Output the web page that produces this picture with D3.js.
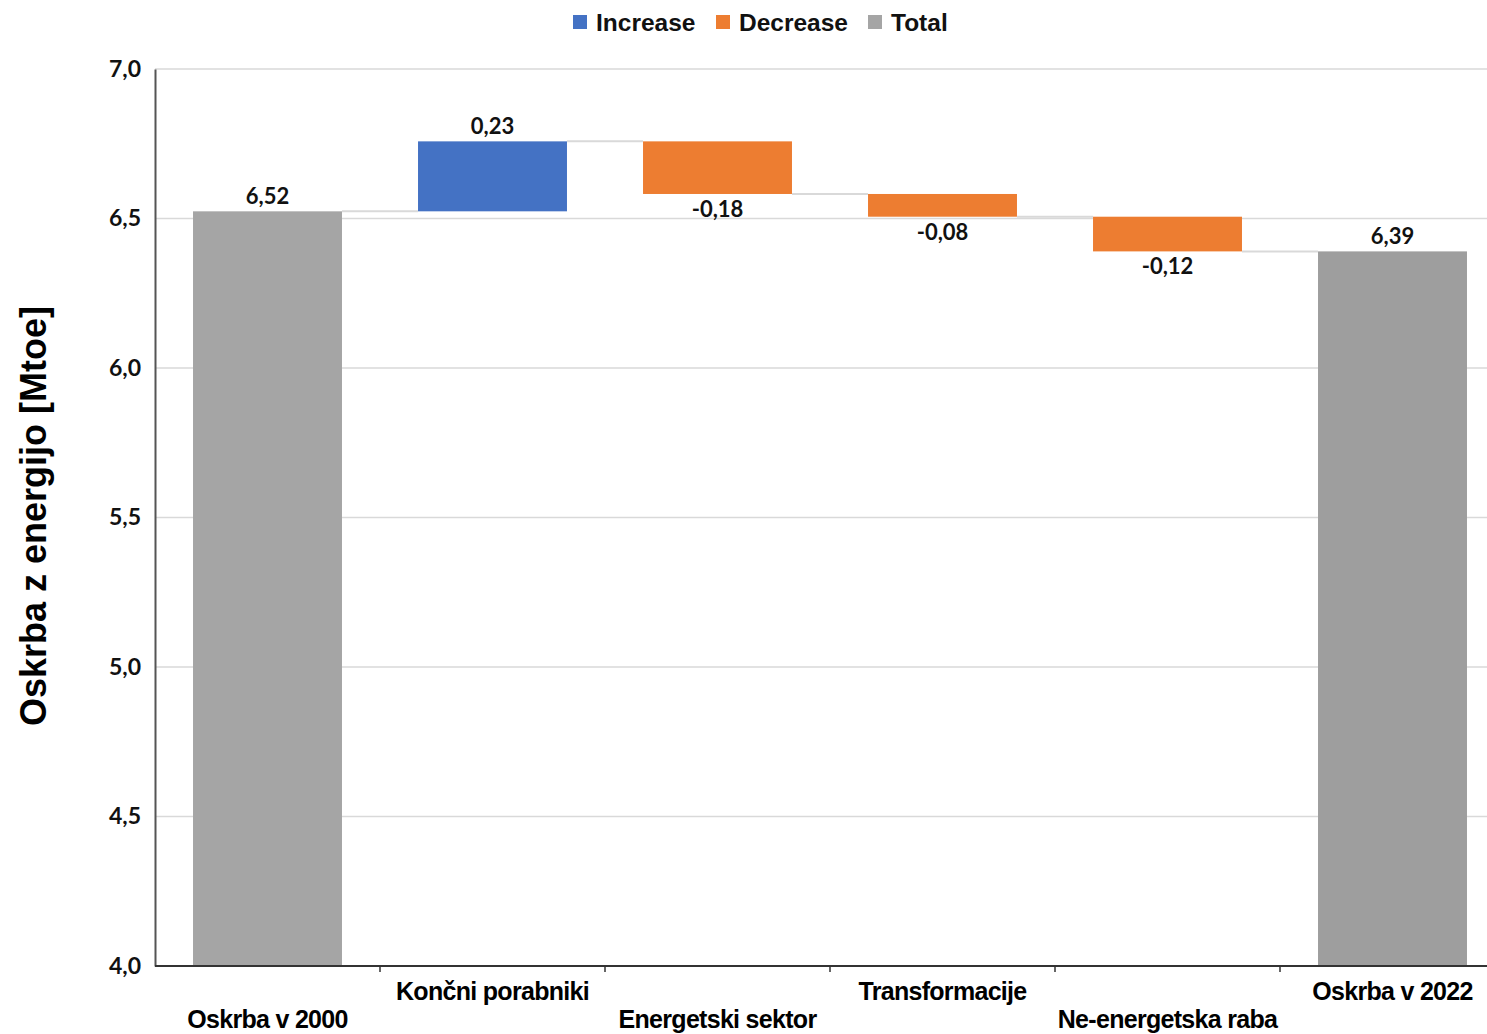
<!DOCTYPE html>
<html>
<head>
<meta charset="utf-8">
<script src="https://cdn.jsdelivr.net/npm/d3@7"></script>
<style>
  html, body { margin: 0; padding: 0; background: #ffffff; overflow: hidden; }
  svg { display: block; }
</style>
</head>
<body>
<svg id="chart" width="1487" height="1034"></svg>
<script>
// Energy supply waterfall, 2000 → 2022 (Mtoe)
const categories = ["Oskrba v 2000", "Končni porabniki", "Energetski sektor", "Transformacije", "Ne-energetska raba", "Oskrba v 2022"];
const kinds      = ["total", "increase", "decrease", "decrease", "decrease", "total"];
const values     = [6.524, 0.234, -0.176, -0.076, -0.116, 6.39];
const yTicks     = [4.0, 4.5, 5.0, 5.5, 6.0, 6.5, 7.0];
const legendKeys = ["Increase", "Decrease", "Total"];

const colors = { increase: "#4472C4", decrease: "#ED7D31", total: "#A5A5A5" };
const totalEndColor = "#9E9E9E";

const svg = d3.select("#chart");
const plotLeft = 155, plotRight = 1505, plotTop = 69, plotBottom = 966;

const x = d3.scaleBand().domain(categories).range([plotLeft, plotRight])
  .paddingInner(0.338).paddingOuter(0.169);
const y = d3.scaleLinear().domain([4, 7]).range([plotBottom, plotTop]);

// Slovenian number style: decimal comma, plain hyphen for minus
const sl = d3.formatLocale({ decimal: ",", thousands: ".", grouping: [3], currency: ["", " €"], minus: "-" });
const fmt = sl.format(".2f");
const fmtTick = sl.format(".1f");

// running levels for each step
let level = 0;
const bars = categories.map((c, i) => {
  let y0, y1;
  if (kinds[i] === "total") { y0 = y.domain()[0]; y1 = values[i]; level = values[i]; }
  else { y0 = level; y1 = level + values[i]; level = y1; }
  return { cat: c, kind: kinds[i], value: values[i], lo: Math.min(y0, y1), hi: Math.max(y0, y1), end: level, i };
});

// gridlines
svg.append("g").selectAll("line").data(yTicks.filter(t => t > 4)).join("line")
  .attr("x1", plotLeft).attr("x2", plotRight)
  .attr("y1", d => y(d)).attr("y2", d => y(d))
  .attr("stroke", "#d9d9d9").attr("stroke-width", 1.5);

// connectors between bars
const conn = bars.slice(0, -1).map((b, i) => ({ from: b, to: bars[i + 1] }));
svg.append("g").selectAll("line").data(conn).join("line")
  .attr("x1", d => x(d.from.cat) + x.bandwidth())
  .attr("x2", d => x(d.to.cat))
  .attr("y1", d => y(d.from.end)).attr("y2", d => y(d.from.end))
  .attr("stroke", "#d9d9d9").attr("stroke-width", 2);

// bars
svg.append("g").selectAll("rect").data(bars).join("rect")
  .attr("x", d => x(d.cat))
  .attr("width", x.bandwidth())
  .attr("y", d => y(d.hi))
  .attr("height", d => y(d.lo) - y(d.hi))
  .attr("fill", d => d.i === bars.length - 1 ? totalEndColor : colors[d.kind]);

// value labels
svg.append("g").selectAll("text").data(bars).join("text")
  .attr("x", d => x(d.cat) + x.bandwidth() / 2)
  .attr("y", d => d.value < 0 ? y(d.lo) + 23 : y(d.hi) - 7)
  .attr("text-anchor", "middle")
  .attr("font-family", "Lato, 'Open Sans', sans-serif")
  .attr("font-weight", 700).attr("font-size", 22)
  .attr("fill", "#111")
  .text(d => fmt(d.value));

// y axis
const yAxis = svg.append("g").attr("transform", `translate(${plotLeft},0)`)
  .call(d3.axisLeft(y).tickValues(yTicks).tickFormat(fmtTick).tickSize(0).tickPadding(14));
yAxis.select(".domain").attr("stroke", "#555").attr("stroke-width", 2);
yAxis.selectAll("text").attr("font-family", "Lato, 'Open Sans', sans-serif")
  .attr("font-weight", 700).attr("font-size", 23).attr("fill", "#111");

// x axis with ticks at band boundaries
const half = (x.step() - x.bandwidth()) / 2;
const xg = svg.append("g");
xg.append("line").attr("x1", plotLeft).attr("x2", plotRight).attr("y1", plotBottom).attr("y2", plotBottom)
  .attr("stroke", "#333").attr("stroke-width", 2);
xg.selectAll("line.tk").data(categories.slice(1)).join("line").attr("class", "tk")
  .attr("x1", d => x(d) - half).attr("x2", d => x(d) - half)
  .attr("y1", plotBottom).attr("y2", plotBottom + 6)
  .attr("stroke", "#333").attr("stroke-width", 1.5);
xg.selectAll("text").data(categories).join("text")
  .attr("x", d => x(d) + x.bandwidth() / 2)
  .attr("y", (d, i) => i % 2 === 0 ? 1028 : 1000)
  .attr("text-anchor", "middle")
  .attr("font-family", "'Liberation Sans', Arial, sans-serif")
  .attr("font-weight", 700).attr("font-size", 25)
  .attr("letter-spacing", -0.7)
  .attr("fill", "#000")
  .text(d => d);

// y title
svg.append("text")
  .attr("transform", "translate(46,516) rotate(-90)")
  .attr("text-anchor", "middle")
  .attr("font-family", "'Liberation Sans', Arial, sans-serif")
  .attr("font-weight", 700).attr("font-size", 36)
  .attr("fill", "#000")
  .text("Oskrba z energijo [Mtoe]");

// legend
const legendX = [573, 716, 868];
const lg = svg.append("g").selectAll("g").data(legendKeys).join("g")
  .attr("transform", (d, i) => `translate(${legendX[i]},15)`);
lg.append("rect").attr("width", 14).attr("height", 14)
  .attr("fill", d => colors[d.toLowerCase()]);
lg.append("text").attr("x", 23).attr("y", 16)
  .attr("font-family", "'Liberation Sans', Arial, sans-serif")
  .attr("font-weight", 700).attr("font-size", 24.5)
  .attr("fill", "#111")
  .text(d => d);
</script>
</body>
</html>
